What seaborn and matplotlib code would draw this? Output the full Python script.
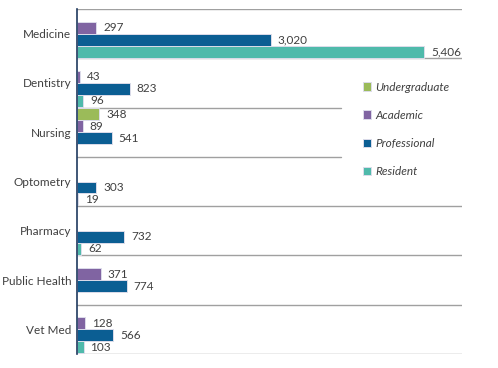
import pandas as pd
import matplotlib
matplotlib.use("Agg")
import matplotlib.pyplot as plt
import seaborn as sns

# data
schools = ["Medicine", "Dentistry", "Nursing", "Optometry", "Pharmacy", "Public Health", "Vet Med"]
undergraduate = [None, None, 348, None, None, None, None]
academic = [297, 43, 89, None, None, 371, 128]
professional = [3020, 823, 541, 303, 732, 774, 566]
resident = [5406, 96, None, 19, 62, None, 103]

levels = ["Undergraduate", "Academic", "Professional", "Resident"]
colors = ["#9BBB59", "#8064A2", "#0B5E93", "#4FBAAB"]

rows = []
for level, vals in zip(levels, [undergraduate, academic, professional, resident]):
    for school, v in zip(schools, vals):
        if v is not None:
            rows.append({"school": school, "level": level, "count": v})
df = pd.DataFrame(rows)

sns.set_style("white")
plt.rcParams["font.family"] = ["Lato", "DejaVu Sans"]
text_col = "#404040"

fig = plt.figure(figsize=(4.98, 3.68), dpi=100)
ax = fig.add_axes([77 / 498, 14 / 368, 385 / 498, 345 / 368])

sns.barplot(
    data=df, y="school", x="count", hue="level",
    order=schools, hue_order=levels, palette=colors, saturation=1,
    orient="h", width=0.97, dodge=True,
    edgecolor="#DCDCEA", linewidth=0.7, ax=ax,
)

for cont in ax.containers:
    ax.bar_label(cont, fmt="{:,.0f}", padding=5, fontsize=8.5, color=text_col)

ax.set_xlim(0, 6000)
ax.set_ylim(6.5, -0.5)
ax.set_xlabel("")
ax.set_ylabel("")
ax.set_xticks([])
ax.tick_params(axis="y", length=0, pad=4, labelsize=8.5, labelcolor=text_col)

# separators between schools (shorter where the legend sits)
for y in [-0.5, 0.5, 3.5, 4.5, 5.5, 6.5]:
    ax.axhline(y, color="#A0A0A0", lw=1, zorder=0)
for y in [1.5, 2.5]:
    ax.axhline(y, xmax=264 / 385, color="#A0A0A0", lw=1, zorder=0)

for s in ["top", "right", "bottom"]:
    ax.spines[s].set_visible(False)
ax.spines["left"].set_color("#1F3A5F")
ax.spines["left"].set_linewidth(1.2)

handles, labels = ax.get_legend_handles_labels()
ax.legend(
    handles, labels, loc="upper left", bbox_to_anchor=(352 / 498, 1 - 71 / 368),
    bbox_transform=fig.transFigure, frameon=False,
    prop={"style": "italic", "size": 8.5}, labelcolor=text_col,
    handlelength=0.7, handleheight=0.7, handletextpad=0.4, labelspacing=1.45,
)

fig.savefig("out.png", dpi=100)
